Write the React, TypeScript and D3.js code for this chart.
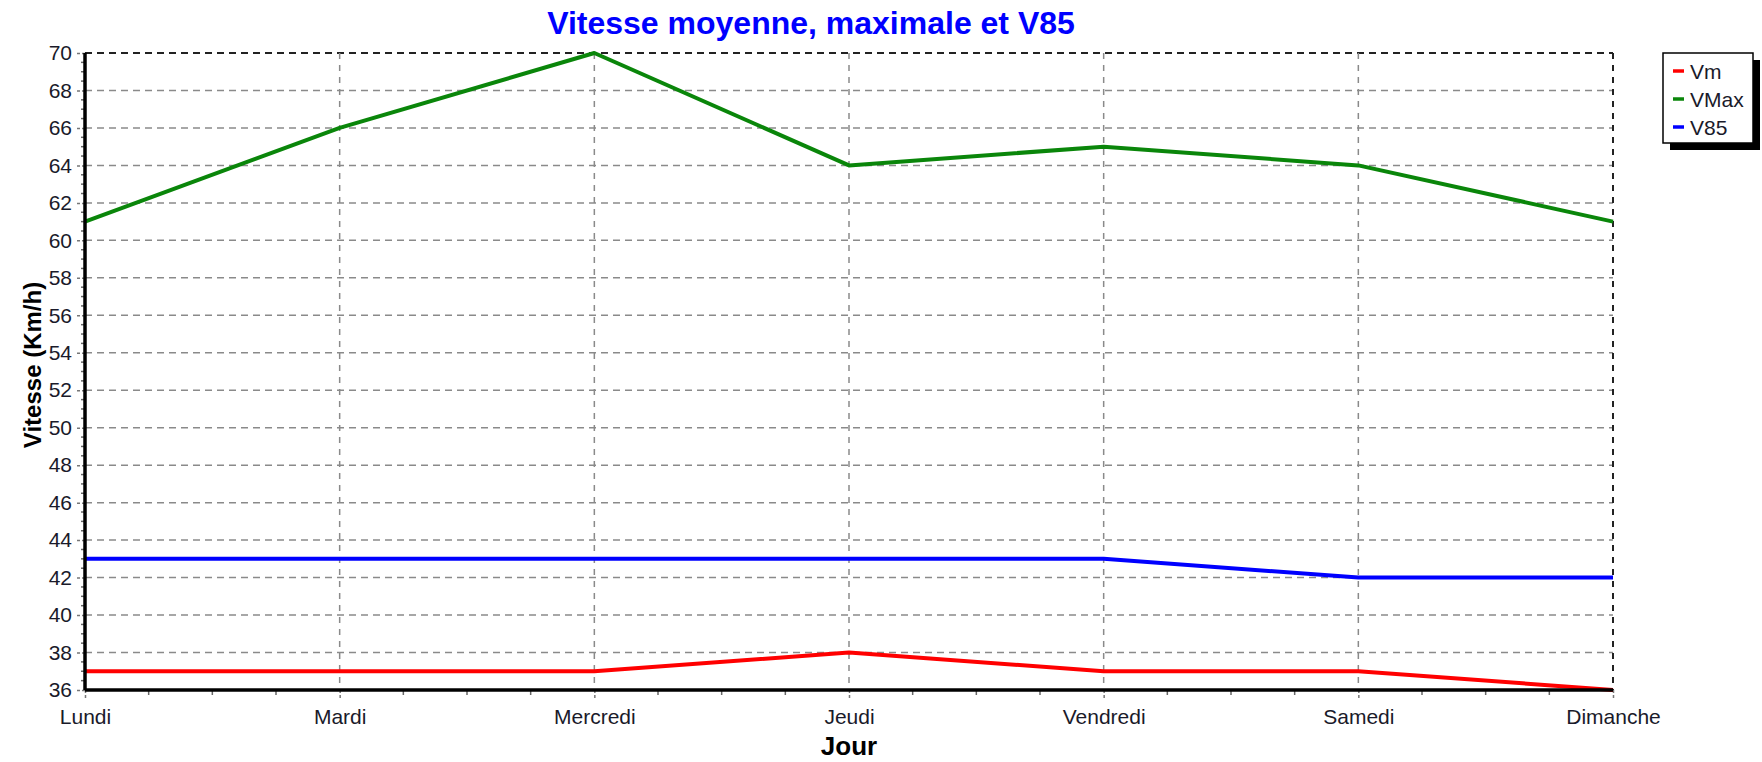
import React, { useRef, useEffect } from 'react';
import * as d3 from 'd3';

const days = ['Lundi', 'Mardi', 'Mercredi', 'Jeudi', 'Vendredi', 'Samedi', 'Dimanche'];
const vm = [37, 37, 37, 38, 37, 37, 36];
const vmax = [61, 66, 70, 64, 65, 64, 61];
const v85 = [43, 43, 43, 43, 43, 42, 42];
const yTicks = d3.range(36, 71, 2);

const series = [
  { name: 'Vm', values: vm, color: '#ff0000' },
  { name: 'VMax', values: vmax, color: '#0a860a' },
  { name: 'V85', values: v85, color: '#0000ff' },
];

const App = () => {
  const svgRef = useRef<SVGSVGElement>(null);

  useEffect(() => {
    const svg = d3.select(svgRef.current);
    svg.selectAll('*').remove();

    const width = 1762;
    const height = 762;
    const margin = { top: 53, right: 149, bottom: 72, left: 85 };
    const w = width - margin.left - margin.right;
    const h = height - margin.top - margin.bottom;
    const font = 'Arial, "Liberation Sans", sans-serif';

    const x = d3.scalePoint<string>().domain(days).range([0, w]);
    const y = d3.scaleLinear().domain([36, 70]).range([h, 0]);

    const g = svg.append('g').attr('transform', `translate(${margin.left},${margin.top})`);

    // grid
    g.selectAll('.hgrid')
      .data(yTicks.slice(1))
      .enter()
      .append('line')
      .attr('x1', 0)
      .attr('x2', w)
      .attr('y1', d => y(d))
      .attr('y2', d => y(d))
      .attr('stroke', d => (d === 70 ? '#222' : '#8a8a8a'))
      .attr('stroke-width', d => (d === 70 ? 2 : 1.5))
      .attr('stroke-dasharray', '7,5');

    g.selectAll('.vgrid')
      .data(days.slice(1))
      .enter()
      .append('line')
      .attr('x1', d => x(d)!)
      .attr('x2', d => x(d)!)
      .attr('y1', 0)
      .attr('y2', h)
      .attr('stroke', d => (d === 'Dimanche' ? '#222' : '#8a8a8a'))
      .attr('stroke-width', d => (d === 'Dimanche' ? 2 : 1.5))
      .attr('stroke-dasharray', '6,6');

    // minor ticks x
    const minorX: number[] = [];
    days.slice(0, -1).forEach((d, i) => {
      const a = x(d)!;
      const b = x(days[i + 1])!;
      for (let k = 1; k < 4; k++) minorX.push(a + ((b - a) * k) / 4);
    });
    g.selectAll('.mx')
      .data(minorX)
      .enter()
      .append('line')
      .attr('x1', d => d)
      .attr('x2', d => d)
      .attr('y1', h)
      .attr('y2', h + 5)
      .attr('stroke', '#666')
      .attr('stroke-width', 1.5);

    // minor ticks y
    const minorY: number[] = [];
    yTicks.slice(0, -1).forEach(t => {
      for (let k = 1; k < 4; k++) minorY.push(t + (2 * k) / 4);
    });
    g.selectAll('.my')
      .data(minorY)
      .enter()
      .append('line')
      .attr('x1', -4)
      .attr('x2', 0)
      .attr('y1', d => y(d))
      .attr('y2', d => y(d))
      .attr('stroke', '#666')
      .attr('stroke-width', 1.5);

    // axes
    const yAxis = g.append('g').call(d3.axisLeft(y).tickValues(yTicks).tickSize(8).tickPadding(5));
    const xAxis = g
      .append('g')
      .attr('transform', `translate(0,${h})`)
      .call(d3.axisBottom(x).tickSize(8).tickPadding(11));
    [xAxis, yAxis].forEach(a => {
      a.select('.domain').remove();
      a.selectAll('.tick line').attr('stroke', '#777').attr('stroke-width', 1.5).attr('stroke-dasharray', '3,2');
      a.selectAll('.tick text')
        .style('font-family', font)
        .style('font-size', '21px')
        .attr('fill', '#1a1a2a');
    });

    // lines
    const line = d3
      .line<number>()
      .x((d, i) => x(days[i])!)
      .y(d => y(d));
    series.forEach(s => {
      g.append('path')
        .datum(s.values)
        .attr('d', line)
        .attr('fill', 'none')
        .attr('stroke', s.color)
        .attr('stroke-width', 4)
        .attr('stroke-linejoin', 'round');
    });

    // solid axis lines
    g.append('line').attr('x1', 0).attr('x2', 0).attr('y1', 0).attr('y2', h).attr('stroke', '#000').attr('stroke-width', 3.5);
    g.append('line').attr('x1', 0).attr('x2', w).attr('y1', h).attr('y2', h).attr('stroke', '#000').attr('stroke-width', 3.5);

    // title
    svg.append('text')
      .attr('x', 811)
      .attr('y', 34)
      .attr('text-anchor', 'middle')
      .style('font-family', font)
      .style('font-weight', 'bold')
      .style('font-size', '32px')
      .attr('fill', '#0000ff')
      .text('Vitesse moyenne, maximale et V85');

    svg.append('text')
      .attr('transform', `translate(41,365) rotate(-90)`)
      .attr('text-anchor', 'middle')
      .style('font-family', font)
      .style('font-weight', 'bold')
      .style('font-size', '24px')
      .attr('fill', '#000')
      .text('Vitesse (Km/h)');

    svg.append('text')
      .attr('x', margin.left + w / 2)
      .attr('y', 755)
      .attr('text-anchor', 'middle')
      .style('font-family', font)
      .style('font-weight', 'bold')
      .style('font-size', '26px')
      .attr('fill', '#000')
      .text('Jour');

    // legend
    const lg = svg.append('g').attr('transform', 'translate(1663,53)');
    lg.append('rect').attr('x', 7).attr('y', 7).attr('width', 90).attr('height', 90).attr('fill', '#000');
    lg.append('rect').attr('x', 0).attr('y', 0).attr('width', 90).attr('height', 90).attr('fill', '#fff').attr('stroke', '#000').attr('stroke-width', 1.5);
    series.forEach((s, i) => {
      const ly = 18 + i * 28;
      lg.append('line').attr('x1', 10).attr('x2', 21).attr('y1', ly).attr('y2', ly).attr('stroke', s.color).attr('stroke-width', 3.5);
      lg.append('text')
        .attr('x', 27)
        .attr('y', ly + 8)
        .style('font-family', font)
        .style('font-size', '21px')
        .attr('fill', '#1a1a2a')
        .text(s.name);
    });
  }, []);

  return (
    <svg
      ref={svgRef}
      width={1762}
      height={762}
      style={{ position: 'absolute', left: 0, top: 0, background: '#fff' }}
    />
  );
};

export default App;
